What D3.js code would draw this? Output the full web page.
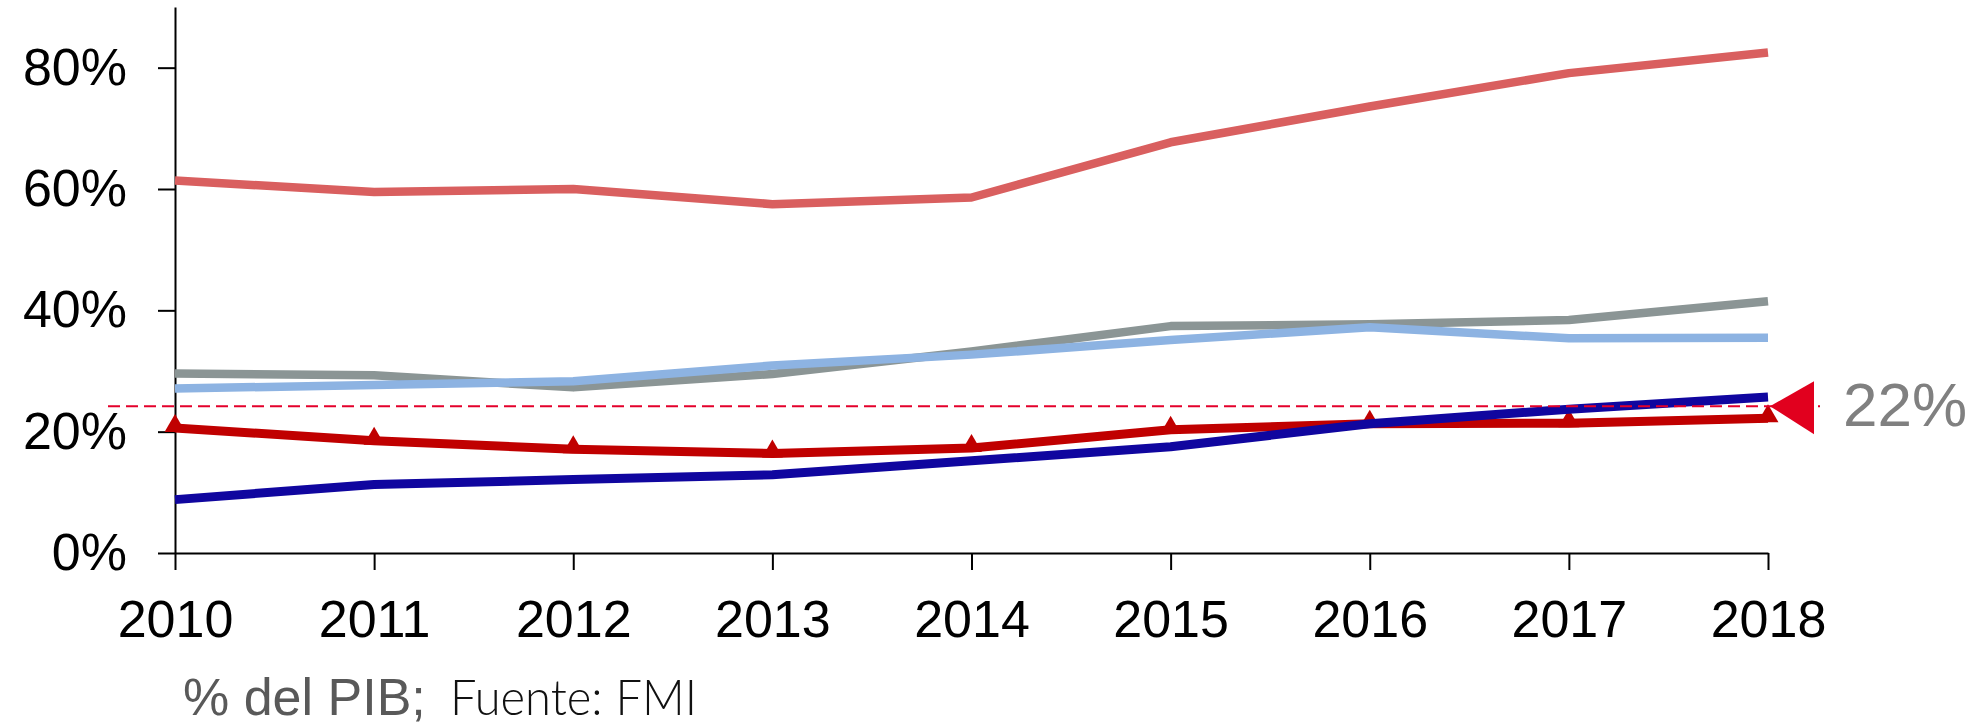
<!DOCTYPE html>
<html>
<head>
<meta charset="utf-8">
<script src="https://cdn.jsdelivr.net/npm/d3@7"></script>
<style>
  html, body { margin: 0; padding: 0; background: #fff; }
  svg { display: block; }
</style>
</head>
<body>
<svg id="chart" width="1977" height="727"></svg>
<script>
// datos (% del PIB)
const years = [2010, 2011, 2012, 2013, 2014, 2015, 2016, 2017, 2018];
const salmonSeries = [61.4, 59.5, 60.0, 57.5, 58.6, 67.7, 73.6, 79.1, 82.5];
const graySeries   = [29.6, 29.3, 27.3, 29.5, 33.2, 37.4, 37.7, 38.4, 41.5];
const lightBlueSeries = [27.1, 27.7, 28.3, 30.9, 32.7, 35.1, 37.2, 35.4, 35.5];
const redSeries    = [20.6, 18.5, 17.1, 16.4, 17.3, 20.3, 21.3, 21.4, 22.2];
const navySeries   = [8.8, 11.3, 12.1, 12.9, 15.2, 17.5, 21.3, 23.7, 25.7];
const yTicks = [0, 20, 40, 60, 80];
const refValue = 24.2;
const refLabel = "22%";

const svg = d3.select("#chart");

const x = d3.scaleLinear().domain([2010, 2018]).range([175, 1768]);
const y = d3.scaleLinear().domain([0, 90]).range([553, 7]);

const mainFont = "'Liberation Sans', Arial, sans-serif";

// ejes
const yAxis = d3.axisLeft(y)
	.tickValues(yTicks)
	.tickSize(17)
	.tickSizeOuter(0)
	.tickPadding(31)
	.tickFormat(d => d + "%");

const xAxis = d3.axisBottom(x)
	.tickValues(years)
	.tickSize(17)
	.tickSizeOuter(0)
	.tickPadding(30)
	.tickFormat(d3.format("d"));

const gy = svg.append("g").attr("transform", "translate(175,0)").call(yAxis);
const gx = svg.append("g").attr("transform", "translate(0,553)").call(xAxis);

[gx, gy].forEach(g => {
	g.select(".domain").attr("stroke", "#000").attr("stroke-width", 2);
	g.selectAll(".tick line").attr("stroke", "#000").attr("stroke-width", 2);
	g.selectAll(".tick text")
		.attr("fill", "#000")
		.style("font-family", mainFont)
		.style("font-size", "52px");
});

// lineas
const line = d3.line()
	.x((d, i) => x(years[i]))
	.y(d => y(d));

const seriesList = [
	{ name: "salmon", values: salmonSeries, color: "#D95F5F", width: 8.5 },
	{ name: "gray", values: graySeries, color: "#8B9595", width: 8.5 },
	{ name: "lightblue", values: lightBlueSeries, color: "#8DB3E2", width: 8.5 },
	{ name: "red", values: redSeries, color: "#C00000", width: 9 },
	{ name: "navy", values: navySeries, color: "#10069F", width: 9 }
];

seriesList.forEach(s => {
	svg.append("path")
		.datum(s.values)
		.attr("fill", "none")
		.attr("stroke", s.color)
		.attr("stroke-width", s.width)
		.attr("stroke-linejoin", "round")
		.attr("d", line);

	if (s.name === "red") {
		svg.append("g")
			.selectAll("path")
			.data(s.values)
			.enter()
			.append("path")
			.attr("transform", (d, i) => `translate(${x(years[i])},${y(d) - 2})`)
			.attr("d", d3.symbol().type(d3.symbolTriangle).size(190))
			.attr("fill", s.color);
	}
});

// linea de referencia discontinua
svg.append("line")
	.attr("x1", 108)
	.attr("x2", x(2018) + 52)
	.attr("y1", y(refValue))
	.attr("y2", y(refValue))
	.attr("stroke", "#E4002B")
	.attr("stroke-width", 2)
	.attr("stroke-dasharray", "12,6");

// flecha triangular
const tipX = x(2018) + 2, tipY = y(refValue);
svg.append("path")
	.attr("d", `M${tipX},${tipY} L${tipX + 44},${tipY - 25} L${tipX + 44},${tipY + 28} Z`)
	.attr("fill", "#E1001E");

svg.append("text")
	.attr("x", 1843)
	.attr("y", 426)
	.attr("fill", "#808080")
	.style("font-family", mainFont)
	.style("font-size", "62px")
	.text(refLabel);

// nota al pie
svg.append("text")
	.attr("x", 183)
	.attr("y", 715)
	.attr("fill", "#595959")
	.style("font-family", mainFont)
	.style("font-size", "52px")
	.text("% del PIB;");

svg.append("text")
	.attr("x", 450)
	.attr("y", 715)
	.attr("fill", "#111")
	.style("font-family", "Lato, 'Open Sans', sans-serif")
	.style("font-weight", 300)
	.style("font-size", "49px")
	.attr("textLength", 247)
	.attr("lengthAdjust", "spacingAndGlyphs")
	.text("Fuente: FMI");
</script>
</body>
</html>
